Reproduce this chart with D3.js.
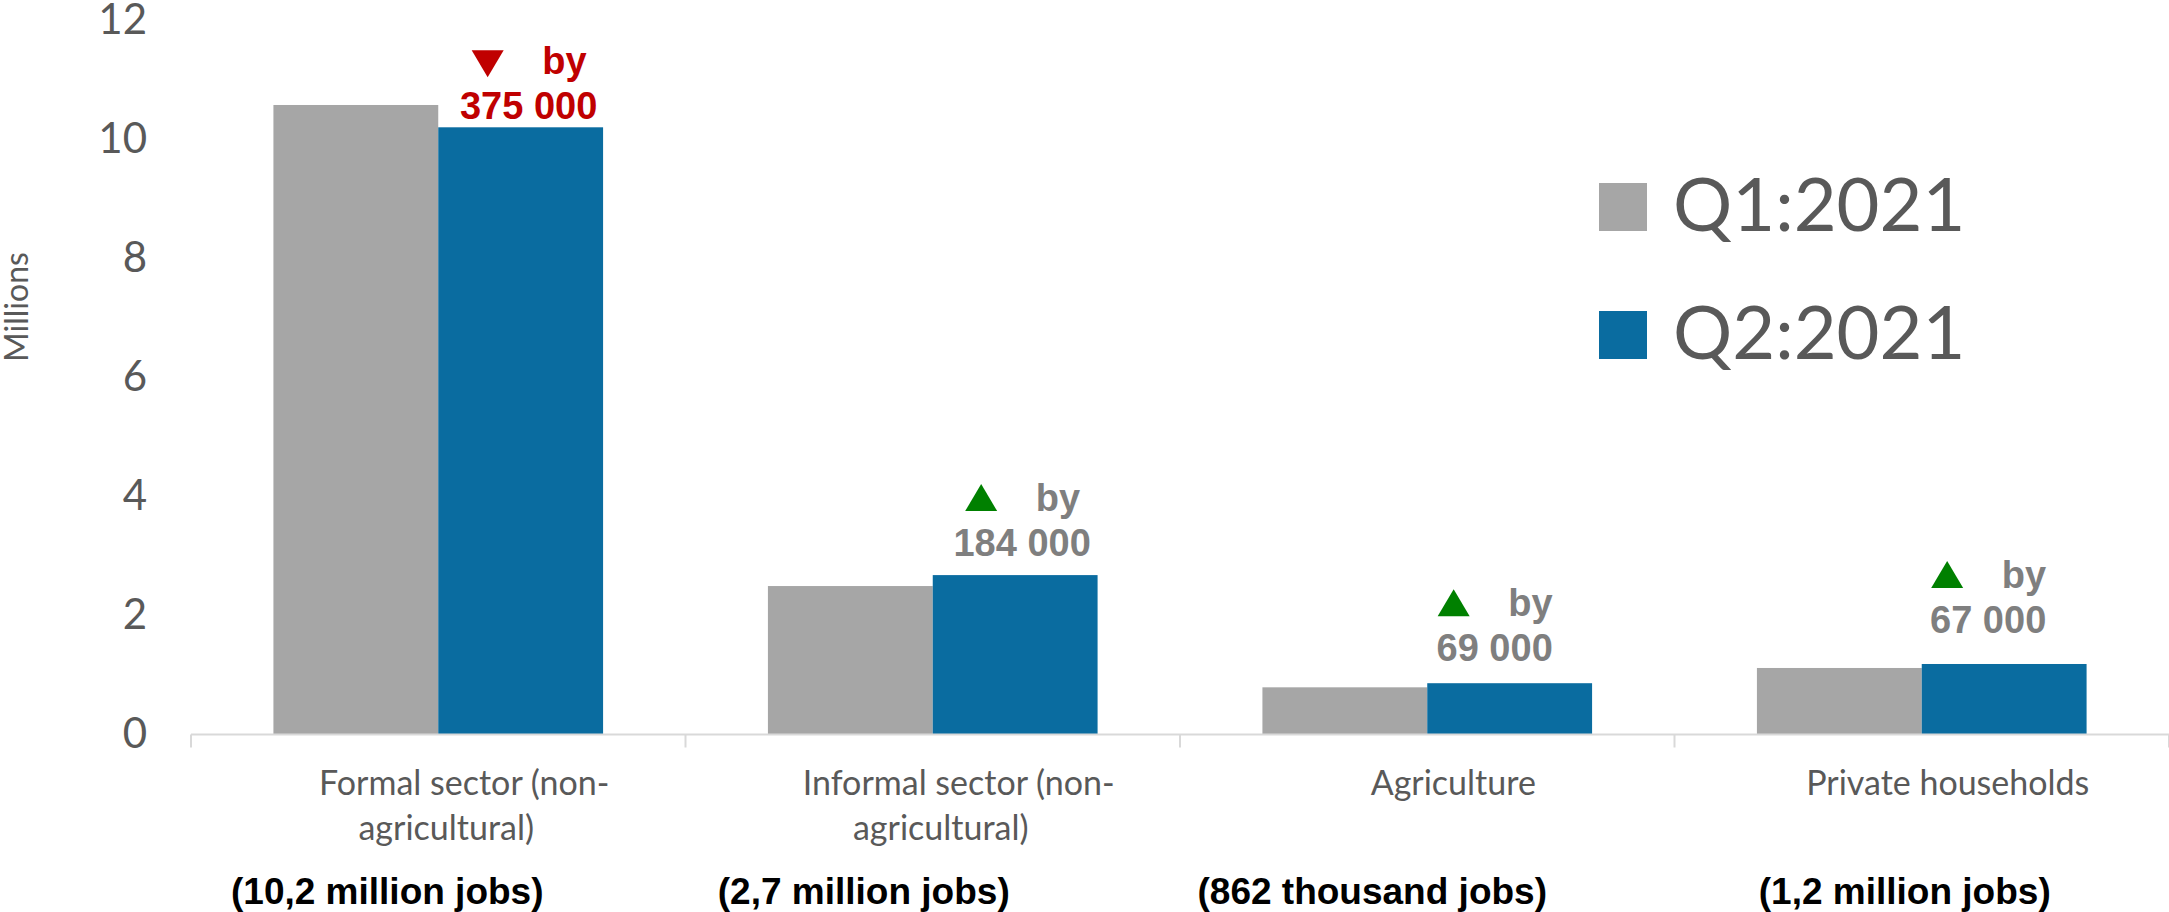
<!DOCTYPE html>
<html>
<head>
<meta charset="utf-8">
<script src="https://cdn.jsdelivr.net/npm/d3@7"></script>
<style>
  html, body { margin: 0; padding: 0; background: #ffffff; }
  svg { display: block; }
</style>
</head>
<body>
<svg id="chart" width="2169" height="912"></svg>
<script>
// Employment by sector, Q1:2021 vs Q2:2021 (millions of jobs)
const categories = [
  "Formal sector (non-agricultural)",
  "Informal sector (non-agricultural)",
  "Agriculture",
  "Private households"
];
const seriesNames = ["Q1:2021", "Q2:2021"];
const q1Values = [10.58, 2.495, 0.793, 1.118];
const q2Values = [10.205, 2.679, 0.862, 1.185];
const changeValues = [-375000, 184000, 69000, 67000];
const changeLabels = ["375 000", "184 000", "69 000", "67 000"];
const totalLabels = [
  "(10,2 million jobs)",
  "(2,7 million jobs)",
  "(862 thousand jobs)",
  "(1,2 million jobs)"
];
const yTicks = [0, 2, 4, 6, 8, 10, 12];
const yTitle = "Millions";

const svg = d3.select("#chart");
const W = 2169, H = 912;

const colors = { "Q1:2021": "#A6A6A6", "Q2:2021": "#0A6CA0" };
const textGrey = "#595959";
const noteGrey = "#7F7F7F";
const downRed = "#C00000";
const upGreen = "#008000";
const axisGrey = "#D9D9D9";

const x = d3.scaleBand()
  .domain(categories)
  .range([191, W])
  .paddingInner(1 / 3)
  .paddingOuter(1 / 6);

const xSeries = d3.scaleBand()
  .domain(seriesNames)
  .range([0, x.bandwidth()]);

const y = d3.scaleLinear()
  .domain([0, 12])
  .range([734.5, 20.5]);

const values = { "Q1:2021": q1Values, "Q2:2021": q2Values };

// Bars
const groups = svg.append("g")
  .selectAll("g")
  .data(categories)
  .join("g")
  .attr("transform", d => `translate(${x(d)},0)`);

groups.selectAll("rect")
  .data((d, i) => seriesNames.map(s => ({ s, v: values[s][i] })))
  .join("rect")
  .attr("x", d => xSeries(d.s))
  .attr("y", d => y(d.v))
  .attr("width", xSeries.bandwidth())
  .attr("height", d => y(0) - y(d.v))
  .attr("fill", d => colors[d.s]);

// Y axis (labels only)
const yAxis = svg.append("g")
  .attr("transform", `translate(${x.range()[0]},0)`)
  .call(d3.axisLeft(y).tickValues(yTicks).tickSize(0).tickPadding(44).tickFormat(d3.format("d")));
yAxis.select(".domain").remove();
yAxis.selectAll("text")
  .attr("fill", textGrey)
  .style("font-family", "Lato, 'Open Sans', sans-serif")
  .style("font-size", "42px");

// Y axis title
svg.append("text")
  .attr("transform", "translate(28,307) rotate(-90)")
  .attr("text-anchor", "middle")
  .attr("fill", textGrey)
  .style("font-family", "Lato, 'Open Sans', sans-serif")
  .style("font-size", "32px")
  .text(yTitle);

// X axis line with ticks at category boundaries
const step = x.step();
const boundaries = categories.map(c => x(c) - (step - x.bandwidth()) / 2);
boundaries.push(boundaries[boundaries.length - 1] + step);
svg.append("line")
  .attr("x1", x.range()[0]).attr("x2", x.range()[1])
  .attr("y1", y(0)).attr("y2", y(0))
  .attr("stroke", axisGrey).attr("stroke-width", 2);
svg.append("g")
  .selectAll("line")
  .data(boundaries)
  .join("line")
  .attr("x1", d => d).attr("x2", d => d)
  .attr("y1", y(0)).attr("y2", y(0) + 13)
  .attr("stroke", axisGrey).attr("stroke-width", 2);

// Category labels (wrapped after the hyphen)
const catLabel = svg.append("g")
  .style("font-family", "Lato, 'Open Sans', sans-serif")
  .style("font-size", "34px")
  .attr("fill", textGrey)
  .attr("text-anchor", "middle");
categories.forEach(c => {
  const lines = c.replace("(non-", "(non-\n").split("\n");
  const cx = x(c) + x.bandwidth() / 2;
  lines.forEach((line, j) => {
    catLabel.append("text")
      .attr("x", cx + (j === 0 ? 26 : 8))
      .attr("y", 795 + j * 45)
      .text(line);
  });
});

// Bold totals under each category
const totalShift = [-51, -69, -55, -17];
svg.append("g")
  .selectAll("text")
  .data(totalLabels)
  .join("text")
  .attr("x", (d, i) => x(categories[i]) + x.bandwidth() / 2 + totalShift[i])
  .attr("y", 904)
  .attr("text-anchor", "middle")
  .attr("fill", "#000000")
  .style("font-family", "'Liberation Sans', Arial, sans-serif")
  .style("font-weight", "bold")
  .style("font-size", "37px")
  .text(d => d);

// Change notes above the Q2 bars
const noteShift = [[8, 8], [7, 19], [-15, 22], [-16, 31]];
categories.forEach((c, i) => {
  const cx = x(c) + xSeries("Q2:2021") + xSeries.bandwidth() / 2 + noteShift[i][0];
  const base = y(q2Values[i]) - noteShift[i][1];
  const up = changeValues[i] > 0;
  const col = up ? noteGrey : downRed;
  const g = svg.append("g")
    .style("font-family", "'Liberation Sans', Arial, sans-serif")
    .style("font-weight", "bold")
    .style("font-size", "38px");
  g.append("text")
    .attr("x", cx).attr("y", base)
    .attr("text-anchor", "middle")
    .attr("fill", col)
    .text(changeLabels[i]);
  const b1 = base - 45;
  g.append("text")
    .attr("x", cx + 58).attr("y", b1)
    .attr("text-anchor", "end")
    .attr("fill", col)
    .text("by");
  const tx = cx - 41, hw = 16, th = 27;
  const pts = up
    ? [[tx - hw, b1], [tx + hw, b1], [tx, b1 - th]]
    : [[tx - hw, b1 - th + 3], [tx + hw, b1 - th + 3], [tx, b1 + 3]];
  g.append("path")
    .attr("d", d3.line()(pts) + "Z")
    .attr("fill", up ? upGreen : downRed);
});

// Legend
const legend = svg.append("g")
  .selectAll("g")
  .data(seriesNames)
  .join("g")
  .attr("transform", (d, i) => `translate(1599,${183 + i * 128})`);
legend.append("rect")
  .attr("width", 48).attr("height", 48)
  .attr("fill", d => colors[d]);
legend.append("text")
  .attr("x", 74).attr("y", 48)
  .attr("fill", textGrey)
  .style("font-family", "Lato, 'Open Sans', sans-serif")
  .style("font-size", "74px")
  .text(d => d);
</script>
</body>
</html>
